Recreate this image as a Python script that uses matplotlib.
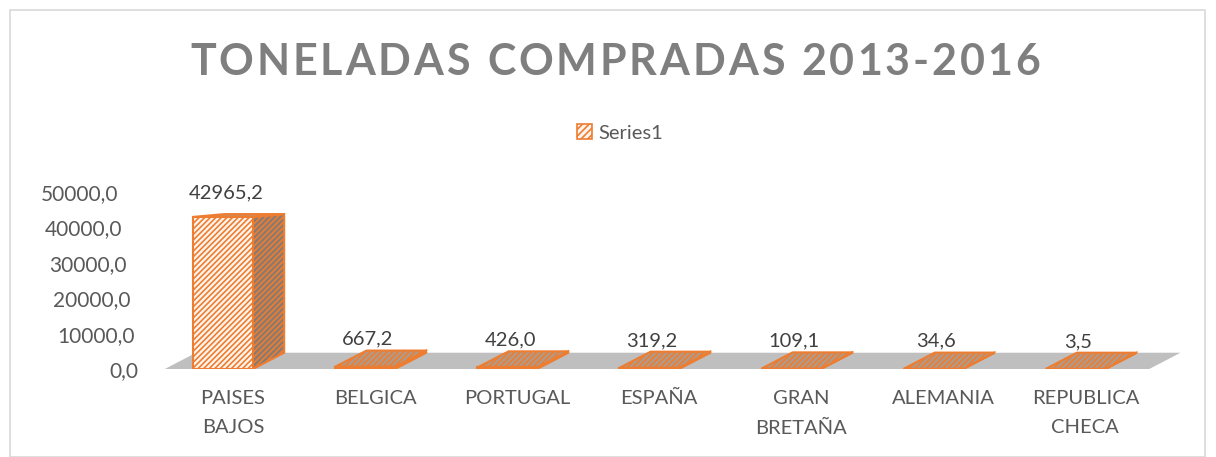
import matplotlib
matplotlib.use('Agg')

import matplotlib.pyplot as plt
from matplotlib.patches import Rectangle, Polygon
from matplotlib.transforms import ScaledTranslation

plt.rcParams['font.family'] = ['Lato', 'DejaVu Sans']
plt.rcParams['hatch.linewidth'] = 1.2

paises = ["PAISES\nBAJOS", "BELGICA", "PORTUGAL", "ESPAÑA", "GRAN\nBRETAÑA", "ALEMANIA", "REPUBLICA\nCHECA"]
toneladas = [42965.2, 667.2, 426.0, 319.2, 109.1, 34.6, 3.5]
etiquetas = ["42965,2", "667,2", "426,0", "319,2", "109,1", "34,6", "3,5"]
yticks = [0, 10000, 20000, 30000, 40000, 50000]
titulo = "TONELADAS COMPRADAS 2013-2016"

naranja = "#ED7D31"
gris_txt = "#595959"

W, H = 1216, 457
fig = plt.figure(figsize=(W / 100, H / 100), dpi=100)

# marco del grafico
fig.patches.append(Rectangle((10 / W, 0), 1195 / W, 1 - 10 / H, transform=fig.transFigure,
                             fill=False, edgecolor="#D9D9D9", linewidth=1.2))

ax = fig.add_axes([162 / W, 1 - 369 / H, 1037 / W, 212 / H])
ax.set_xlim(-0.5, 6.8)
ax.set_ylim(0, 50000 * 212 / 177)

dx, dy = 0.22, 4600   # profundidad 3D
ojo = 52000           # altura aprox. de la camara (perspectiva)
w = 0.42


def prof(y):
    return dy * max(0.0, 1 - y / ojo)


# suelo
ax.add_patch(Polygon([(-0.48, 0), (6.45, 0), (6.45 + dx, dy), (-0.48 + dx, dy)],
                     closed=True, facecolor="#BFBFBF", edgecolor="none", zorder=1))

for i, v in enumerate(toneladas):
    x0 = i - 0.28
    x1 = x0 + w
    dv = prof(v)
    # cara lateral
    ax.add_patch(Polygon([(x1, 0), (x1 + dx, dy), (x1 + dx, v + dv), (x1, v)], closed=True,
                         facecolor="#8A7A70", edgecolor=naranja, hatch="//////", linewidth=1.5, zorder=3))
    # cara superior
    ax.add_patch(Polygon([(x0, v), (x1, v), (x1 + dx, v + dv), (x0 + dx, v + dv)], closed=True,
                         facecolor="#B09A8A", edgecolor=naranja, hatch="//////", linewidth=1.5, zorder=3))
    # cara frontal
    ax.add_patch(Rectangle((x0, 0), w, v, facecolor="#FFF4EC", edgecolor=naranja,
                           hatch="//////", linewidth=1.5, zorder=4))
    ax.annotate(etiquetas[i], (i - 0.05, max(v, v + dv)), xytext=(0, 9 if v > 10000 else 2),
                textcoords="offset points", ha="center", va="bottom", fontsize=14.5, color="#404040")

ax.set_xticks(range(len(paises)))
ax.set_xticklabels(paises, fontsize=14.5, color=gris_txt, linespacing=1.9)
ax.set_yticks(yticks)
ax.set_yticklabels([f"{t},0" for t in yticks], fontsize=15, color=gris_txt)
ax.tick_params(axis="y", length=0, pad=17)
ax.tick_params(axis="x", length=0, pad=15)
# eje vertical inclinado (efecto 3D)
for t, lab in zip(yticks, ax.get_yticklabels()):
    lab.set_transform(lab.get_transform() + ScaledTranslation(-(t / 50000) * 20 / 100, 0, fig.dpi_scale_trans))
for s in ax.spines.values():
    s.set_visible(False)
ax.patch.set_visible(False)

# titulo con espaciado entre letras
renderer = fig.canvas.get_renderer()
estilo = dict(fontsize=31, fontweight="bold", color="#7F7F7F", va="center", ha="left")
anchos = []
for ch in titulo:
    t = fig.text(0, 0, ch if ch != " " else "T", **estilo)
    anchos.append(t.get_window_extent(renderer).width * (0.45 if ch == " " else 1))
    t.remove()
x_ini, x_fin = 190, 1040
extra = (x_fin - x_ini - sum(anchos)) / (len(titulo) - 1)
x = x_ini
for ch, a in zip(titulo, anchos):
    if ch != " ":
        fig.text(x / W, 1 - 62 / H, ch, **estilo)
    x += a + extra

handle = Rectangle((0, 0), 1, 1, facecolor="#FFF4EC", edgecolor=naranja, hatch="/////", linewidth=1.2)
fig.legend([handle], ["Series1"], loc="center", bbox_to_anchor=(620 / W, 1 - 133 / H),
           frameon=False, fontsize=14.5, labelcolor=gris_txt, handlelength=0.75, handleheight=0.75,
           handletextpad=0.3)

fig.savefig("out.png", dpi=100)
plt.close(fig)
